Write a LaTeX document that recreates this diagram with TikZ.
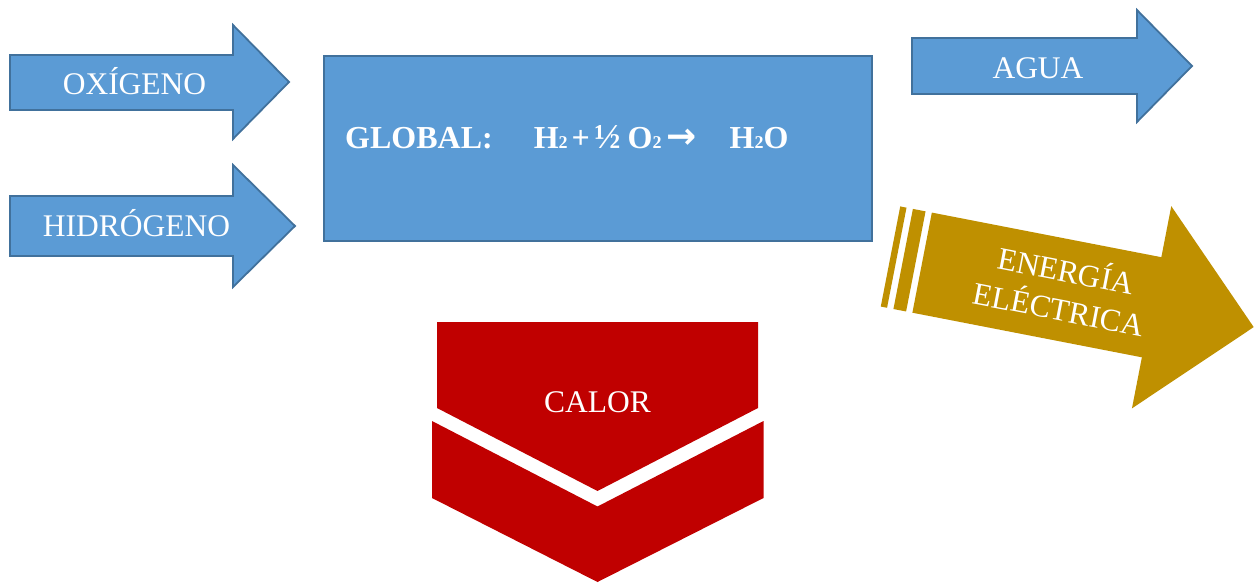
\documentclass[tikz,border=0pt]{standalone}
\usepackage{fontspec}
\setmainfont{Liberation Serif}
\newfontfamily\arrowfont{DejaVu Sans}
\definecolor{flowblue}{HTML}{5B9BD5}
\definecolor{flowedge}{HTML}{41719C}
\definecolor{heatred}{HTML}{C00000}
\definecolor{powergold}{HTML}{BF9000}
\newcommand\chemsub[1]{{\fontsize{18}{18}\selectfont #1}}
\begin{document}
\begin{tikzpicture}[x=1pt,y=-1pt,
  bluearrow/.style={fill=flowblue,draw=flowedge,line width=1.8pt,line join=miter},
  arrowtext/.style={text=white,font=\fontsize{31.5}{38}\selectfont,inner sep=0pt,anchor=base},
  eqtext/.style={text=white,font=\bfseries\fontsize{32}{38}\selectfont,inner sep=0pt,anchor=base west}]
\useasboundingbox (0,0) rectangle (1259,583);

% input arrows
\draw[bluearrow] (10,55) -- (233,55) -- (233,25) -- (289,82) -- (233,139) -- (233,110) -- (10,110) -- cycle;
\node[arrowtext] (oxigeno) at (134.5,94.3) {OXÍGENO};

\draw[bluearrow] (10,196) -- (233,196) -- (233,165) -- (295,226) -- (233,287) -- (233,256) -- (10,256) -- cycle;
\node[arrowtext] (hidrogeno) at (136.5,236) {HIDRÓGENO};

% reaction box
\draw[bluearrow] (324,56) rectangle (872,241);
\node[eqtext] (global) at (345,149) {GLOBAL:\hspace{41pt}H\chemsub{2}\hspace{4pt}+\hspace{4.5pt}{\fontsize{35}{38}\selectfont ½}\hspace{7pt}O\chemsub{2}\hspace{5pt}{\arrowfont\bfseries\fontsize{36}{38}\selectfont →}\hspace{33pt}H\chemsub{2}O};

% water output
\draw[bluearrow] (912,38) -- (1137,38) -- (1137,10) -- (1192,66) -- (1137,122) -- (1137,94) -- (912,94) -- cycle;
\node[arrowtext] (agua) at (1038,79) {AGUA};

% electrical energy: striped arrow tilted downwards
\begin{scope}[shift={(890.5,256.5)},rotate=-11]
  \fill[powergold] (0,-51) rectangle (6.4,51);
  \fill[powergold] (12.9,-51) rectangle (25.8,51);
  \fill[powergold] (32.2,-51) -- (266,-51) -- (266,-103) -- (370,0) -- (266,103) -- (266,51) -- (32.2,51) -- cycle;
\end{scope}
\node[arrowtext,rotate=-11] (energia) at (1064,281.7) {ENERGÍA};
\node[arrowtext,rotate=-11] (electrica) at (1056.7,320) {ELÉCTRICA};

% heat: two stacked chevrons
\fill[heatred] (437,322) -- (758,322) -- (758,408) -- (597.5,491) -- (437,408) -- cycle;
\fill[heatred] (432,421) -- (597.5,506.5) -- (763.5,421) -- (763.5,498) -- (597.5,582) -- (432,498) -- cycle;
\node[arrowtext] (calor) at (597.5,412.7) {CALOR};
\end{tikzpicture}
\end{document}
